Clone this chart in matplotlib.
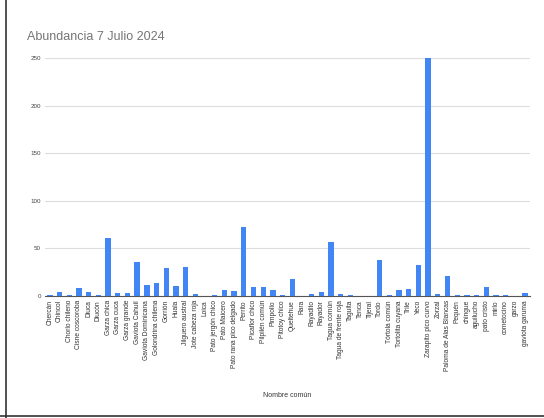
import numpy as np
from matplotlib import pyplot as plt
from matplotlib.lines import Line2D

species = [
    'Chercán', 'Chincol', 'Chorlo chileno', 'Cisne coscoroba', 'Diuca', 'Diucón',
    'Garza chica', 'Garza cuca', 'Garza grande', 'Gaviota Cahuil', 'Gaviota Dominicana',
    'Golondrina chilena', 'Gorrión', 'Huala', 'Jilguero austral', 'Jote cabeza roja',
    'Loica', 'Pato jergón chico', 'Pato Maicero', 'Pato rana pico delgado', 'Perrito',
    'Picaflor chico', 'Pilpilén común', 'Pimpollo', 'Pitotoy chico', 'Queltehue', 'Rara',
    'Rayadito', 'Rayador', 'Tagua común', 'Tagua de frente roja', 'Taguita', 'Tenca',
    'Tijeral', 'Tordo', 'Tórtola común', 'Tortolita cuyana', 'Trile', 'Yeco',
    'Zarapito pico curvo', 'Zorzal', 'Paloma de Alas Blancas', 'Pequén', 'chingue',
    'aguilucho', 'pato cristo', 'mirlo', 'cometocino', 'garzo', 'gaviota garuma',
]
abundance = [
    1, 4, 1, 8, 4, 1,
    61, 3, 3, 36, 11,
    14, 29, 10, 30, 2,
    0, 1, 6, 5, 72,
    9, 9, 6, 1, 18, 0,
    2, 4, 57, 2, 1, 0,
    0, 38, 1, 6, 7, 33,
    250, 2, 21, 1, 1,
    1, 9, 1, 1, 0, 3,
]
y_ticks = [0, 50, 100, 150, 200, 250]

plt.rcParams['font.family'] = ['Liberation Sans', 'DejaVu Sans']

fig = plt.figure(figsize=(5.44, 4.18), dpi=100)
ax = fig.add_axes([0.0827, 0.292, 0.8915, 0.569])

x = np.arange(len(species))
ax.bar(x, abundance, width=0.55, color='#4285F4', zorder=3)

ax.set_xlim(-0.5, len(species) - 0.5)
ax.set_ylim(0, 250)
ax.set_yticks(y_ticks)
ax.set_yticklabels([str(v) for v in y_ticks], fontsize=4.5, color='#444444')
ax.set_xticks(x)
ax.set_xticklabels(species, rotation=90, fontsize=4.8, color='#333333')
ax.tick_params(length=0, pad=3)
ax.yaxis.grid(True, color='#dddddd', linewidth=0.8, zorder=0)
for s in ['top', 'right', 'left']:
    ax.spines[s].set_visible(False)
ax.spines['bottom'].set_color('#555555')
ax.spines['bottom'].set_linewidth(0.8)

fig.text(0.05, 0.905, 'Abundancia 7 Julio 2024', fontsize=9, color='#757575')
fig.text(0.527, 0.05, 'Nombre común', fontsize=5, color='#333333', ha='center')

# screenshot frame
fig.add_artist(Line2D([0.011, 0.011], [0, 1], transform=fig.transFigure, color='#333333', linewidth=1.2))
fig.add_artist(Line2D([0, 1], [0.004, 0.004], transform=fig.transFigure, color='#333333', linewidth=1.2))

fig.savefig('out.png', dpi=100)
